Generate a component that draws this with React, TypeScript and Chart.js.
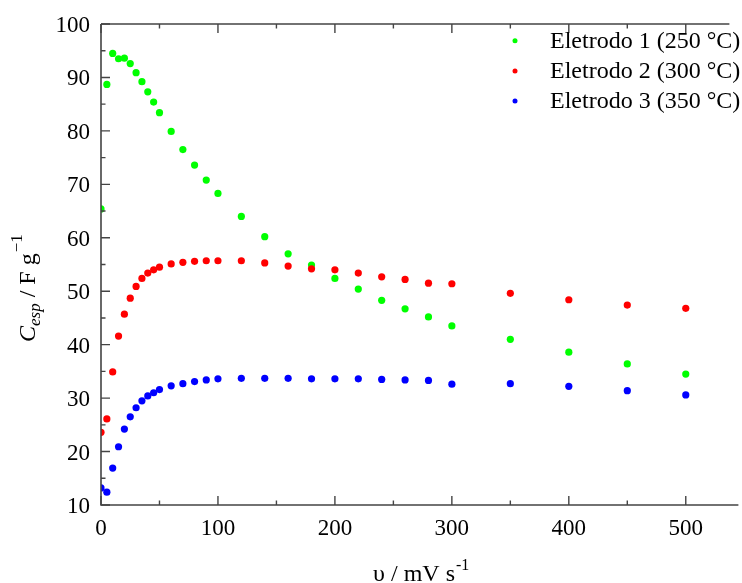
import React, { useEffect, useRef } from "react";
import { Chart, registerables } from "chart.js";

Chart.register(...registerables);

// Scan rate (mV/s)
const scanRates = [0, 5, 10, 15, 20, 25, 30, 35, 40, 45, 50, 60, 70, 80, 90, 100, 120, 140, 160, 180, 200, 220, 240, 260, 280, 300, 350, 400, 450, 500];

// Specific capacitance (F/g) per electrode
const eletrodo1 = [65.4, 88.7, 94.5, 93.5, 93.6, 92.6, 90.9, 89.2, 87.3, 85.4, 83.4, 79.9, 76.5, 73.6, 70.8, 68.3, 64.0, 60.2, 57.0, 54.9, 52.4, 50.4, 48.3, 46.7, 45.2, 43.5, 41.0, 38.6, 36.4, 34.5];
const eletrodo2 = [23.6, 26.1, 34.9, 41.6, 45.7, 48.7, 50.9, 52.4, 53.4, 54.0, 54.5, 55.1, 55.4, 55.6, 55.7, 55.7, 55.7, 55.3, 54.7, 54.2, 54.0, 53.4, 52.7, 52.2, 51.5, 51.4, 49.6, 48.4, 47.4, 46.8];
const eletrodo3 = [13.2, 12.4, 16.9, 20.9, 24.2, 26.5, 28.2, 29.5, 30.4, 31.0, 31.6, 32.3, 32.7, 33.1, 33.4, 33.6, 33.7, 33.7, 33.7, 33.6, 33.6, 33.6, 33.5, 33.4, 33.3, 32.6, 32.7, 32.2, 31.4, 30.6];

const seriesLabels = ["Eletrodo 1 (250 °C)", "Eletrodo 2 (300 °C)", "Eletrodo 3 (350 °C)"];
const seriesColors = ["#00ff00", "#ff0000", "#0000ff"];

const xTickLabels = [0, 100, 200, 300, 400, 500];
const xMinorTicks = [50, 150, 250, 350, 450];
const yTickLabels = [10, 20, 30, 40, 50, 60, 70, 80, 90, 100];
const yMinorTicks = [15, 25, 35, 45, 55, 65, 75, 85, 95];

const SERIF = '"Liberation Serif", "Times New Roman", serif';

const axesPlugin = {
  id: "paperAxes",
  afterDraw(chart: any) {
    const { ctx, chartArea } = chart;
    const xs = chart.scales.x;
    const ys = chart.scales.y;
    const { left, right, top, bottom } = chartArea;
    ctx.save();

    // axis lines
    ctx.strokeStyle = "#444";
    ctx.lineWidth = 1.6;
    ctx.beginPath();
    ctx.moveTo(left, top);
    ctx.lineTo(left, bottom);
    ctx.lineTo(right, bottom);
    ctx.moveTo(left, top);
    ctx.lineTo(right - 9, top);
    ctx.stroke();

    // inward tick marks
    ctx.lineWidth = 1.4;
    ctx.beginPath();
    const xt = (v: number, len: number) => {
      const p = xs.getPixelForValue(v);
      ctx.moveTo(p, bottom);
      ctx.lineTo(p, bottom - len);
      ctx.moveTo(p, top);
      ctx.lineTo(p, top + len);
    };
    const yt = (v: number, len: number) => {
      const p = ys.getPixelForValue(v);
      ctx.moveTo(left, p);
      ctx.lineTo(left + len, p);
    };
    xTickLabels.forEach((v) => xt(v, 9));
    xMinorTicks.forEach((v) => xt(v, 4.5));
    yTickLabels.forEach((v) => yt(v, 9));
    yMinorTicks.forEach((v) => yt(v, 4.5));
    ctx.stroke();

    // tick labels
    ctx.fillStyle = "#000";
    ctx.font = `23px ${SERIF}`;
    ctx.textAlign = "center";
    ctx.textBaseline = "alphabetic";
    xTickLabels.forEach((v) => {
      ctx.fillText(String(v), xs.getPixelForValue(v), bottom + 30);
    });
    ctx.textAlign = "right";
    yTickLabels.forEach((v) => {
      ctx.fillText(String(v), left - 11, ys.getPixelForValue(v) + 8);
    });

    // x title: υ / mV s^-1
    ctx.textAlign = "left";
    const xMain = `24px ${SERIF}`;
    const xSup = `16px ${SERIF}`;
    ctx.font = xMain;
    const xPart = "υ / mV s";
    const w1 = ctx.measureText(xPart).width;
    ctx.font = xSup;
    const w2 = ctx.measureText("-1").width;
    const cx = (left + right) / 2 + 1;
    let xStart = cx - (w1 + w2) / 2;
    ctx.font = xMain;
    ctx.fillText(xPart, xStart, 581);
    ctx.font = xSup;
    ctx.fillText("-1", xStart + w1 + 1, 570);

    // y title: C_esp / F g^-1 (rotated)
    ctx.save();
    ctx.translate(35, 342);
    ctx.rotate(-Math.PI / 2);
    let pos = 0;
    const put = (t: string, font: string, dy: number) => {
      ctx.font = font;
      ctx.fillText(t, pos, dy);
      pos += ctx.measureText(t).width;
    };
    put("C", `italic 24px ${SERIF}`, 0);
    put("esp", `italic 17px ${SERIF}`, 5);
    put(" / F g", `24px ${SERIF}`, 0);
    pos += 1;
    put("\u22121", `17px ${SERIF}`, -13);
    ctx.restore();

    // legend
    ctx.font = `24px ${SERIF}`;
    ctx.textAlign = "left";
    seriesLabels.forEach((lab, i) => {
      const cy = 40.7 + i * 30.2;
      ctx.fillStyle = seriesColors[i];
      ctx.beginPath();
      ctx.arc(515, cy, 2.5, 0, Math.PI * 2);
      ctx.fill();
      ctx.fillStyle = "#000";
      ctx.fillText(lab, 550, cy + 7);
    });

    ctx.restore();
  },
};

export default function App() {
  const canvasRef = useRef<HTMLCanvasElement | null>(null);

  useEffect(() => {
    const canvas = canvasRef.current;
    if (!canvas) return;
    const toPoints = (vals: number[]) => vals.map((y, i) => ({ x: scanRates[i], y }));
    const series = [eletrodo1, eletrodo2, eletrodo3];
    const chart = new Chart(canvas, {
      type: "scatter",
      data: {
        datasets: series.map((vals, i) => ({
          label: seriesLabels[i],
          data: toPoints(vals),
          backgroundColor: seriesColors[i],
          borderColor: seriesColors[i],
          borderWidth: 0,
          pointRadius: 3.6,
          pointHoverRadius: 3.6,
          order: 3 - i,
        })),
      },
      options: {
        animation: false,
        responsive: false,
        maintainAspectRatio: false,
        layout: { padding: { left: 101, right: 0, top: 24, bottom: 78 } },
        scales: {
          x: { type: "linear", min: 0, max: 545, display: false },
          y: { type: "linear", min: 10, max: 100, display: false },
        },
        plugins: {
          legend: { display: false },
          tooltip: { enabled: false },
        },
      },
      plugins: [axesPlugin],
    });
    return () => chart.destroy();
  }, []);

  return (
    <div style={{ position: "absolute", left: 0, top: 0, width: 742, height: 583, background: "#fff" }}>
      <canvas ref={canvasRef} width={742} height={583} style={{ display: "block" }} />
    </div>
  );
}
